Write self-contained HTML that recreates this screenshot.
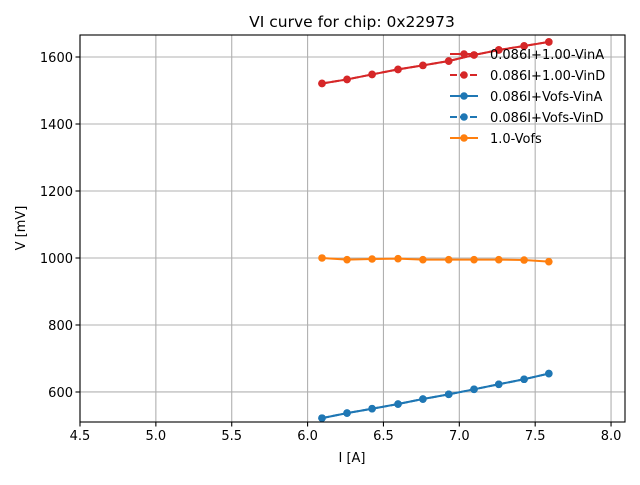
<!DOCTYPE html>
<html><head><meta charset="utf-8"><style>
body{margin:0;background:#fff;}
svg{font-family:"DejaVu Sans","Liberation Sans",sans-serif;}
</style></head><body>
<svg id="c" width="640" height="480" xmlns="http://www.w3.org/2000/svg"></svg>
<script>
const xVals=[6.095,6.26,6.425,6.596,6.76,6.93,7.097,7.26,7.427,7.59];
const redA=[1521,1533,1548,1563,1575,1588,1606,1621,1633,1645];
const redD=[1521,1533,1548,1563,1575,1588,1606,1621,1633,1645];
const blueA=[522,537,550,564,579,593,608,623,638,655];
const blueD=[522,537,550,564,579,593,608,623,638,655];
const orange=[1000,995,997,998,995,995,995,995,994,989];
const xTicks=[4.5,5.0,5.5,6.0,6.5,7.0,7.5,8.0];
const yTicks=[600,800,1000,1200,1400,1600];
const seriesNames=["0.086I+1.00-VinA","0.086I+1.00-VinD","0.086I+Vofs-VinA","0.086I+Vofs-VinD","1.0-Vofs"];

const L=80,R=625,T=35,B=422;
const xMin=4.5,xMax=8.092,yMin=510.4,yMax=1665.7;
const sx=v=>L+(v-xMin)/(xMax-xMin)*(R-L);
const sy=v=>B-(v-yMin)/(yMax-yMin)*(B-T);
const svg=document.getElementById('c');
const NS='http://www.w3.org/2000/svg';
function mk(tag,attrs,parent){const e=document.createElementNS(NS,tag);for(const k in attrs)e.setAttribute(k,attrs[k]);(parent||svg).appendChild(e);return e;}

const grid=mk('g',{});


xTicks.forEach(t=>{
  const x=sx(t);
  mk('line',{x1:x,x2:x,y1:T,y2:B,stroke:'#b0b0b0','stroke-width':1.1},grid);
  mk('line',{x1:x,x2:x,y1:B,y2:B+4.5,stroke:'#000','stroke-width':1.1},grid);
  const tx=mk('text',{x:x,y:B+18,'font-size':13,'text-anchor':'middle'});
  
  
  tx.textContent=t.toFixed(1);
});
yTicks.forEach(t=>{
  const y=sy(t);
  mk('line',{x1:L,x2:R,y1:y,y2:y,stroke:'#b0b0b0','stroke-width':1.1},grid);
  mk('line',{x1:L-4.5,x2:L,y1:y,y2:y,stroke:'#000','stroke-width':1.1},grid);
  const tx=mk('text',{x:L-7,y:y+5,'font-size':13,'text-anchor':'end'});
  
  
  tx.textContent=String(t);
});

const colors=['#d62728','#d62728','#1f77b4','#1f77b4','#ff7f0e'];
const dashes=[null,'7,3',null,'7,3',null];
const all=[redA,redD,blueA,blueD,orange];
all.forEach((s,i)=>{
  const g=mk('g',{});
  
  
  const pts=s.map((v,j)=>sx(xVals[j])+','+sy(v)).join(' ');
  const a={points:pts,fill:'none',stroke:colors[i],'stroke-width':2};
  if(dashes[i])a['stroke-dasharray']=dashes[i];
  mk('polyline',a,g);
  s.forEach((v,j)=>{
    const c=mk('circle',{cx:sx(xVals[j]),cy:sy(v),r:3.8,fill:colors[i]},g);
    
    
  });
});

const frame=mk('rect',{x:L,y:T,width:R-L,height:B-T,fill:'none',stroke:'#000','stroke-width':1.1});



const leg=mk('g',{});


seriesNames.forEach((n,i)=>{
  const y=54+i*21;
  const a={x1:450,x2:478,y1:y,y2:y,stroke:colors[i],'stroke-width':2};
  if(dashes[i])a['stroke-dasharray']='7,3';
  mk('line',a,leg);
  mk('circle',{cx:464,cy:y,r:3.8,fill:colors[i]},leg);
  const t=mk('text',{x:490,y:y+5,'font-size':13},leg);
  
  
  t.textContent=n;
});

const title=mk('text',{x:352,y:27,'font-size':15.5,'text-anchor':'middle'});


title.textContent='VI curve for chip: 0x22973';
const xl=mk('text',{x:352,y:462,'font-size':13,'text-anchor':'middle'});


xl.textContent='I [A]';
const yl=mk('text',{x:25,y:228,'font-size':13,'text-anchor':'middle',transform:'rotate(-90 25 228)'});


yl.textContent='V [mV]';
</script>
</body></html>
